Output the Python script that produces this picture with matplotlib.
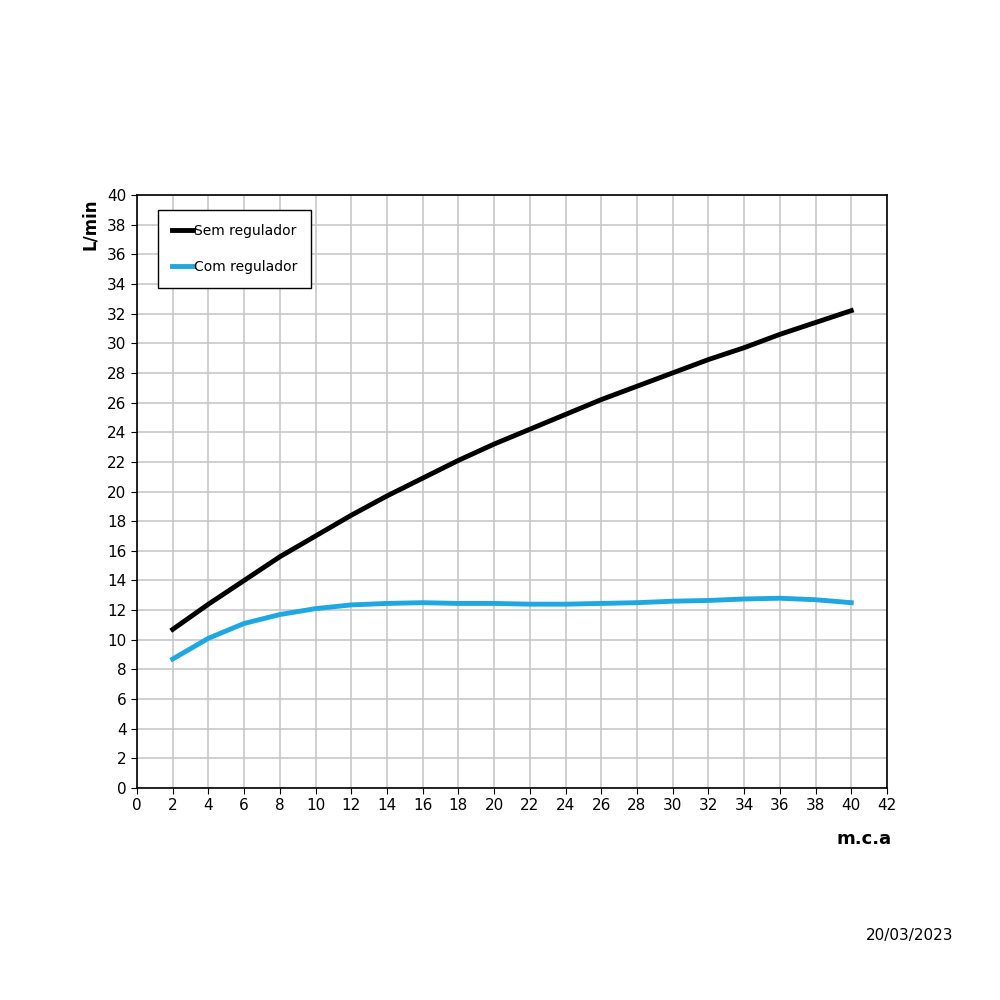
import matplotlib
matplotlib.use("Agg")
import matplotlib.pyplot as plt
import numpy as np

plt.rcParams['font.family'] = ['Liberation Sans Narrow', 'DejaVu Sans']

x = [2,4,6,8,10,12,14,16,18,20,22,24,26,28,30,32,34,36,38,40]
sem = [10.7,12.4,14.0,15.6,17.0,18.4,19.7,20.9,22.1,23.2,24.2,25.2,26.2,27.1,28.0,28.9,29.7,30.6,31.4,32.2]
com = [8.7,10.1,11.1,11.7,12.1,12.35,12.45,12.5,12.45,12.45,12.4,12.4,12.45,12.5,12.6,12.65,12.75,12.8,12.7,12.5]
xticks = list(range(0, 43, 2))
yticks = list(range(0, 41, 2))

fig = plt.figure(figsize=(10, 10), dpi=100)
ax = fig.add_axes([0.137, 0.212, 0.75, 0.593])
ax.plot(x, sem, color='black', lw=3.5, label='Sem regulador')
ax.plot(x, com, color='#1ea7e1', lw=3.5, label='Com regulador')
ax.set_xlim(0, 42)
ax.set_ylim(0, 40)
ax.set_xticks(xticks)
ax.set_yticks(yticks)
ax.tick_params(labelsize=11, length=4)
ax.grid(True, color='#c8c8c8', lw=1.2)
ax.set_axisbelow(True)
for s in ax.spines.values():
    s.set_linewidth(1.2)
ax.set_ylabel('L/min', fontsize=12, fontweight='bold', labelpad=2)
ax.yaxis.set_label_coords(-0.05, 0.95)
ax.set_xlabel('m.c.a', fontsize=13, fontweight='bold')
ax.xaxis.set_label_coords(0.97, -0.07)
leg = ax.legend(loc='upper left', bbox_to_anchor=(0.028, 0.975), fontsize=10,
                fancybox=False, edgecolor='black', handlelength=1.5,
                handletextpad=0.1, borderpad=1.0, labelspacing=1.6,
                borderaxespad=0, framealpha=1)
leg.get_frame().set_linewidth(1.0)
for t in leg.get_texts():
    pass
fig.text(0.91, 0.06, '20/03/2023', fontsize=11, ha='center')
fig.savefig('out.png', dpi=100)
